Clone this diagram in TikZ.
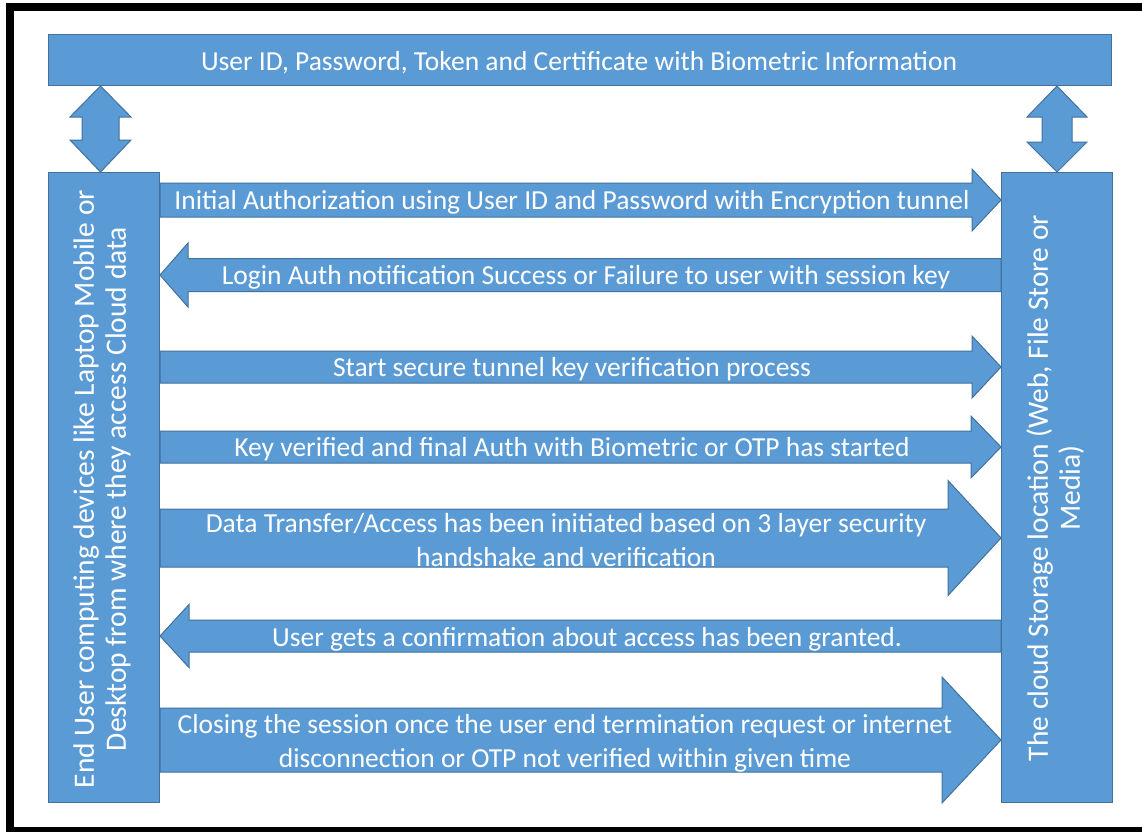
\documentclass[tikz,border=0pt]{standalone}
\usepackage{fontspec}
\setmainfont{Carlito}
\usetikzlibrary{calc}
\definecolor{boxfill}{HTML}{5B9BD5}
\definecolor{boxline}{HTML}{41719C}
\tikzset{
  blk/.style={fill=boxfill, draw=boxline, line width=1pt},
  lbl/.style={text=white, font=\fontsize{27.5}{34}\selectfont, align=center, inner sep=0pt, yshift=-2pt},
  sidelbl/.style={lbl, rotate=90, yshift=2pt, font=\fontsize{29.5}{32}\selectfont},
  pane/.style={blk, inner sep=0pt, anchor=north west},
}
% arrow pointing right from the client column to the cloud column
% #1 centre y, #2 half body, #3 half head, #4 head length
\newcommand\toCloud[4]{%
  \path[blk] let \p1=(client.east), \p2=(cloud.west) in
    (\x1,#1-#2) -- (\x2-#4pt,#1-#2) -- (\x2-#4pt,#1-#3) -- (\x2,#1)
    -- (\x2-#4pt,#1+#3) -- (\x2-#4pt,#1+#2) -- (\x1,#1+#2) -- cycle;}
% arrow pointing left from the cloud column back to the client column
\newcommand\toClient[4]{%
  \path[blk] let \p1=(client.east), \p2=(cloud.west) in
    (\x2,#1-#2) -- (\x1+#4pt,#1-#2) -- (\x1+#4pt,#1-#3) -- (\x1,#1)
    -- (\x1+#4pt,#1+#3) -- (\x1+#4pt,#1+#2) -- (\x2,#1+#2) -- cycle;}
% vertical double arrow between the top bar and a column
% #1 centre x, #2 half shaft, #3 half head, #4 upper shoulder y, #5 lower shoulder y, #6 top node, #7 bottom node
\newcommand\linkUp[7]{%
  \path[blk] let \p1=(#6.south), \p2=(#7.north) in
    (#1,\y1) -- (#1+#3,#4) -- (#1+#2,#4) -- (#1+#2,#5) -- (#1+#3,#5)
    -- (#1,\y2) -- (#1-#3,#5) -- (#1-#2,#5) -- (#1-#2,#4) -- (#1-#3,#4) -- cycle;}
\begin{document}
\begin{tikzpicture}[x=1pt,y=-1pt]
\useasboundingbox (0,0) rectangle (1142,831);
\fill[white] (0,0) rectangle (1142,831);
\begin{scope}
  \clip (0,0) rectangle (1142,831);
  \draw[line width=8pt] (10,7) rectangle (1170,831);
\end{scope}

% top bar and the two columns
\node[pane, minimum width=1063pt, minimum height=51pt] (cred) at (48,34) {};
\node[pane, minimum width=111pt, minimum height=630pt] (client) at (48,172) {};
\node[pane, minimum width=111pt, minimum height=630pt] (cloud) at (1001,172) {};

\node[lbl] (credtext) at (579,61) {User ID, Password, Token and Certificate with Biometric Information};
\node[sidelbl] (clienttext) at (104,487) {End User computing devices like Laptop Mobile or\\Desktop from where they access Cloud data};
\node[sidelbl] (cloudtext) at (1057,486) {The cloud Storage location (Web, File Store or\\Media)};

% links between the credential bar and the columns
\linkUp{100.5}{18.5}{30.5}{117}{140}{cred}{client}
\linkUp{1057}{15}{30}{117}{142}{cred}{cloud}

% message flow
\toCloud{200}{17}{31}{29}
\node[lbl] (m1) at (572,200) {Initial Authorization using User ID and Password with Encryption tunnel};
\toClient{275}{16.5}{32}{28}
\node[lbl] (m2) at (586,275) {Login Auth notification Success or Failure to user with session key};
\toCloud{367}{16}{31}{29}
\node[lbl] (m3) at (572,367) {Start secure tunnel key verification process};
\toCloud{447}{16}{31}{30}
\node[lbl] (m4) at (572,447) {Key verified and final Auth with Biometric or OTP has started};
\toCloud{538}{29}{57.5}{53}
\node[lbl] (m5) at (566,538) {Data Transfer/Access has been initiated based on 3 layer security\\handshake and verification};
\toClient{636}{16}{31.5}{29}
\node[lbl] (m6) at (587,637) {User gets a confirmation about access has been granted.};
\toCloud{740}{32}{63}{59}
\node[lbl] (m7) at (565,741) {Closing the session once the user end termination request or internet\\disconnection or OTP not verified within given time};
\end{tikzpicture}
\end{document}
